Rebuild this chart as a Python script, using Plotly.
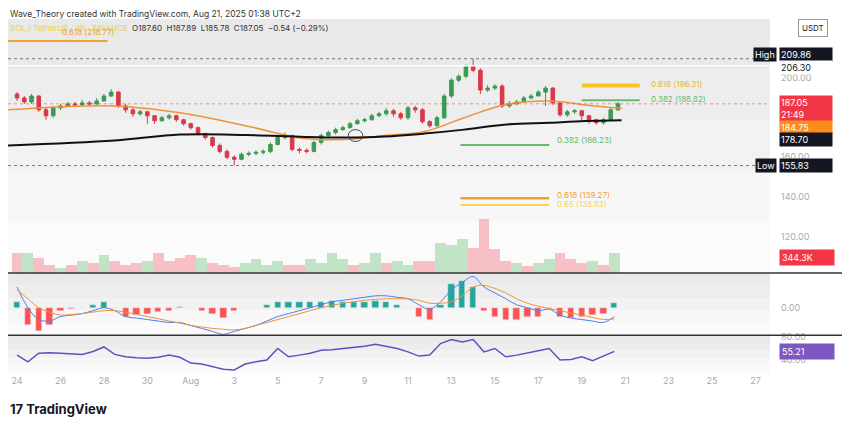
import plotly.graph_objects as go
import pandas as pd

# 8h candles, Jul 24 00:00 -> Aug 20 16:00
candle_times = pd.date_range("2025-07-24 00:00", periods=84, freq="8h")
opens = [192, 190, 188, 191, 184, 181, 185, 186, 187, 186.5, 187.5, 187, 188.5, 191, 193,
         186, 184, 182, 183, 181, 178.5, 180, 181, 179, 177, 175, 172, 170, 166, 163,
         160, 159, 161.5, 162, 162.5, 163, 166.5, 170, 171, 164, 163.5, 163, 167.5, 171, 172.5,
         174, 175, 177, 178.5, 179, 181, 182, 183.5, 182, 180, 185, 184, 178, 176, 180,
         191, 199, 201, 206, 204, 194, 195, 196, 186, 187, 188, 190, 191, 193, 195,
         187.5, 181.5, 183, 183.5, 181, 179, 177.5, 179, 184]
closes = [190, 188, 191, 184, 181, 185, 186, 187, 186.5, 187.5, 187, 188.5, 191, 193, 186,
          184, 182, 183, 181, 178.5, 180, 181, 179, 177, 175, 172, 170, 166, 163, 160,
          159, 161.5, 162, 162.5, 163, 166.5, 170, 171, 164, 163.5, 163, 167.5, 171, 172.5, 174,
          175, 177, 178.5, 179, 181, 182, 183.5, 182, 180, 185, 184, 178, 176, 180, 191,
          199, 201, 206, 204, 194, 195, 196, 186, 187, 188, 190, 191, 193, 195, 187.5,
          181.5, 183, 183.5, 181, 179, 177.5, 179, 184, 187.05]
highs = [193, 191, 192, 191.5, 185, 186, 187, 188, 188, 189, 188.5, 190, 192, 194.5, 193.5,
         187, 185, 184, 183.5, 181, 181, 182, 181.5, 179.5, 177.5, 175.5, 172.5, 170.5, 167, 164,
         161, 162.5, 163, 163.5, 164, 167.5, 171.5, 172.5, 171.5, 165, 164.5, 168.5, 172, 173.5, 175,
         176, 178, 179.5, 180, 182, 183, 185, 184.5, 183, 186, 186, 185, 179, 181, 192,
         200, 202, 207, 209.86, 205, 196.5, 197, 197, 188.5, 189, 191, 192, 194, 196, 195.5,
         188, 184, 184.5, 184, 181.5, 179.5, 180, 185, 187.89]
lows = [188.5, 187, 187, 183, 179, 180, 184, 185.5, 185.5, 186, 186, 186.5, 188, 190.5, 185,
        182.5, 180.5, 181, 177, 177, 178, 179, 178, 176, 174, 171, 169, 165, 162, 159,
        155.83, 158.5, 160.5, 161, 161.5, 162, 166, 169, 163, 162, 162, 162.5, 166.5, 170, 171.5,
        173.5, 174.5, 176.5, 177.5, 178.5, 180.5, 181, 180.5, 179, 179, 182.5, 177, 175, 175.5, 179.5,
        190, 198, 200, 203, 192, 193, 194, 185, 185, 186.5, 187.5, 189.5, 191, 186, 186.5,
        180.5, 180.5, 182, 178.5, 177, 176.5, 176.5, 178.5, 183.5]

# moving averages
ema_times = ["2025-07-23 14:00", "2025-07-28 12:00", "2025-07-31 12:00", "2025-08-03 12:00",
             "2025-08-06 06:00", "2025-08-08 02:00", "2025-08-09 22:00", "2025-08-11 18:00",
             "2025-08-13 14:00", "2025-08-15 10:00", "2025-08-17 12:00", "2025-08-19 04:00",
             "2025-08-20 20:00"]
ema50 = [184, 186, 182.5, 176, 169.5, 169, 171, 173, 180, 186.5, 188.5, 186.5, 184.75]
ema200 = [166, 168.5, 171.5, 171.3, 170.3, 170, 170.5, 172, 174, 176.5, 177.5, 178.3, 178.7]

# 12h indicator values, Jul 24 00:00 -> Aug 20 12:00
ind_times = pd.date_range("2025-07-24 00:00", periods=56, freq="12h")
volume_k = [980, 980, 735, 390, 245, 390, 590, 490, 880, 590, 390, 490, 590, 980,
            590, 735, 880, 735, 490, 390, 295, 490, 685, 390, 590, 390, 390, 685,
            490, 980, 685, 390, 490, 980, 490, 590, 390, 590, 590, 1470, 1370, 1715,
            1225, 2700, 1175, 590, 490, 345, 490, 685, 980, 685, 490, 590, 390, 980]
volume_dir = "RGRRGRGRGRRRGRRRRGRRRGGGGRRGGGGRGGRGGRRGGGRRRRGRGGRRRGRG"
macd = [7, 0, -4, -4.5, -3, -2.5, -2, -1, 0, -1, -3, -3.5, -4, -4.5, -5, -5,
        -6, -7, -8, -9, -8, -7, -6, -4.5, -3, -2, -1, 0, 1, 2, 2.5, 3,
        3.5, 4, 4, 3.5, 3, 1, -0.5, 2, 6, 8.5, 10.5, 7, 5, 3, 1, 0,
        -1, -0.5, -2.5, -3.5, -4, -4.5, -5, -3]
signal = [6, 3, 0, -1.5, -2.5, -2.3, -2, -1.5, -1, -1, -1.5, -2.2, -3, -3.7, -4.5, -5.2,
          -6, -6.5, -7, -7.3, -7.5, -7, -6, -5, -4, -3, -2, -1, 0, 0.8, 1.5, 2,
          2.5, 2.8, 3, 3, 3, 2.5, 1.5, 1.5, 2, 4, 7, 7.5, 6.5, 5, 3, 1.5,
          0.5, -0.3, -1, -1.8, -2.5, -3.3, -4, -3.8]
hist = [2, -6, -8, -6, -1, -0.5, 0, 1, 2, 0, -3, -2.6, -2, -1.6, -1, 0.4,
        0, -1, -2, -3.4, -1, 0, 0, 1, 2, 2, 2, 2, 2, 2.4, 2, 2,
        2, 2.4, 2, 1, 0, -3, -4, 1, 8, 9, 7, -1, -3, -4, -4, -3,
        -3, -0.4, -3, -3.4, -3, -2.4, -2, 1.6]
rsi = [48.7, 37, 52, 53, 52, 51, 50, 55, 63, 50, 45.7, 44, 43, 45, 48.7, 45,
       34.8, 33, 28.3, 24, 22.6, 33, 37, 40, 60.3, 45.7, 48.7, 52, 57.4, 58, 60.3, 62,
       64.3, 67.8, 64.3, 60.3, 54.4, 47, 48.7, 69, 76, 71.8, 76, 54.4, 60.3, 45.7, 48.7, 52,
       56.2, 60.3, 40, 41.2, 45.7, 38.8, 47, 55.21]

date_ticks = pd.date_range("2025-07-24", "2025-08-27", freq="2D")
date_labels = ["24", "26", "28", "30", "Aug", "3", "5", "7", "9", "11", "13", "15",
               "17", "19", "21", "23", "25", "27"]

GREEN = "#3b9a54"
RED = "#d8394a"
P_DOM = [0.279, 0.981]
M_DOM = [0.107, 0.279]
R_DOM = [0.0, 0.107]

fig = go.Figure()

vol_colors = ["rgba(120,200,130,0.45)" if d == "G" else "rgba(240,120,130,0.45)" for d in volume_dir]
fig.add_trace(go.Bar(x=ind_times, y=volume_k, marker_color=vol_colors, marker_line_width=0,
                     width=43200000, yaxis="y4", showlegend=False))

fig.add_trace(go.Candlestick(x=candle_times, open=opens, high=highs, low=lows, close=closes,
                             increasing=dict(line=dict(color=GREEN, width=1), fillcolor=GREEN),
                             decreasing=dict(line=dict(color=RED, width=1), fillcolor=RED),
                             whiskerwidth=0, showlegend=False))
fig.add_trace(go.Scatter(x=ema_times, y=ema50, mode="lines", line=dict(color="#f0913a", width=1.5, shape="spline"),
                         showlegend=False))
fig.add_trace(go.Scatter(x=ema_times, y=ema200, mode="lines", line=dict(color="#111111", width=2, shape="spline"),
                         showlegend=False))

hist_colors = ["#26a69a" if h >= 0 else "#ff5252" for h in hist]
fig.add_trace(go.Bar(x=ind_times, y=hist, marker_color=hist_colors, width=25000000,
                     yaxis="y2", showlegend=False))
fig.add_trace(go.Scatter(x=ind_times, y=macd, mode="lines", line=dict(color="#4a7ff0", width=1, shape="spline"),
                         yaxis="y2", showlegend=False))
fig.add_trace(go.Scatter(x=ind_times, y=signal, mode="lines", line=dict(color="#f0913a", width=1, shape="spline"),
                         yaxis="y2", showlegend=False))
fig.add_trace(go.Scatter(x=ind_times, y=rsi, mode="lines", line=dict(color="#6a4bc4", width=1.5),
                         yaxis="y3", showlegend=False))

shapes = []
# pane backgrounds (light gray fading to white)
for dom in (P_DOM, M_DOM, R_DOM):
    for i, c in enumerate(["#e9e9e9", "#ededed", "#f2f2f2", "#f7f7f7", "#fbfbfb"]):
        h = (dom[1] - dom[0]) / 5
        shapes.append(dict(type="rect", xref="paper", yref="paper", x0=0, x1=1,
                           y0=dom[1] - (i + 1) * h, y1=dom[1] - i * h,
                           fillcolor=c, line_width=0, layer="below"))
# pane separators
for yy in (M_DOM[1], R_DOM[1]):
    shapes.append(dict(type="line", xref="paper", yref="paper", x0=0, x1=1.1, y0=yy, y1=yy,
                       line=dict(color="#333333", width=1.5)))
# horizontal levels
shapes.append(dict(type="line", xref="paper", yref="y", x0=0, x1=1, y0=209.86, y1=209.86,
                   line=dict(color="#777", width=1, dash="dot")))
shapes.append(dict(type="line", xref="paper", yref="y", x0=0, x1=1, y0=155.83, y1=155.83,
                   line=dict(color="#777", width=1, dash="dot")))
shapes.append(dict(type="line", xref="paper", yref="y", x0=0, x1=1, y0=206.30, y1=206.30,
                   line=dict(color="white", width=1.5)))
shapes.append(dict(type="line", xref="paper", yref="y", x0=0, x1=1, y0=187.05, y1=187.05,
                   line=dict(color="rgba(216,57,74,0.5)", width=1, dash="dot")))
# fib lines
fibs = [("2025-07-23 14:00", "2025-07-28 04:00", 218.77, "#f0a030", 2),
        ("2025-08-19 00:00", "2025-08-21 16:00", 196.31, "#f6c623", 4),
        ("2025-08-19 00:00", "2025-08-21 16:00", 188.82, "#66bb6a", 2),
        ("2025-08-13 10:00", "2025-08-17 12:00", 166.23, "#66bb6a", 2),
        ("2025-08-13 10:00", "2025-08-17 12:00", 139.27, "#f0a030", 2.5),
        ("2025-08-13 10:00", "2025-08-17 12:00", 135.83, "#f6d650", 2)]
for x0, x1, lv, col, w in fibs:
    shapes.append(dict(type="line", xref="x", yref="y", x0=x0, x1=x1, y0=lv, y1=lv,
                       line=dict(color=col, width=w)))
shapes.append(dict(type="circle", xref="x", yref="y", x0="2025-08-08 06:00", x1="2025-08-08 22:00",
                   y0=168, y1=174, line=dict(color="#444", width=1)))

ann = [
    dict(x=0.0, y=1.0, xref="paper", yref="paper", xanchor="left", yanchor="top", yshift=5, showarrow=False,
         text="Wave_Theory created with TradingView.com, Aug 21, 2025 01:38 UTC+2",
         font=dict(size=8.5, color="#333")),
    dict(x=0.0, y=0.975, xref="paper", yref="paper", xanchor="left", yanchor="top", showarrow=False,
         text="<span style='color:#e8d24a'>SOL / TetherUS · 4h · BINANCE</span>  O187.60  H187.89  L185.78  C187.05  −0.54 (−0.29%)",
         font=dict(size=8, color="#333")),
    dict(x="2025-07-26 00:00", y=220, xref="x", yref="y", xanchor="left", yanchor="bottom", showarrow=False,
         text="0.618 (218.77)", font=dict(size=8, color="#f0a030")),
    dict(x="2025-08-22 02:00", y=197, xref="x", yref="y", xanchor="left", showarrow=False,
         text="0.618 (196.31)", font=dict(size=8, color="#e8b820")),
    dict(x="2025-08-22 02:00", y=189.5, xref="x", yref="y", xanchor="left", showarrow=False,
         text="0.382 (188.82)", font=dict(size=8, color="#66bb6a")),
    dict(x="2025-08-17 18:00", y=169, xref="x", yref="y", xanchor="left", showarrow=False,
         text="0.382 (166.23)", font=dict(size=8, color="#66bb6a")),
    dict(x="2025-08-17 18:00", y=141, xref="x", yref="y", xanchor="left", showarrow=False,
         text="0.618 (139.27)", font=dict(size=8, color="#f0a030")),
    dict(x="2025-08-17 18:00", y=136.5, xref="x", yref="y", xanchor="left", showarrow=False,
         text="0.65 (135.83)", font=dict(size=8, color="#f6d650")),
    dict(x=1.0, y=0.955, xref="paper", yref="paper", xanchor="left", yanchor="middle", xshift=28, showarrow=False,
         text="USDT", font=dict(size=8, color="#222"), bordercolor="#999", borderwidth=1, borderpad=3,
         bgcolor="white"),
]
# price tags on the right: (position on axis, text, background, text colour, anchor)
tags = [(211.8, "209.86", "#131722", "white", "middle"), (205.3, "206.30", "white", "#131722", "middle"),
        (191.5, "187.05<br>21:49", "#f23645", "white", "top"), (175.0, "184.75", "#ff8c1a", "white", "middle"),
        (169.0, "178.70", "#131722", "white", "middle"), (155.83, "155.83", "#131722", "white", "middle")]
for yv, txt, bg, fg, ya in tags:
    ann.append(dict(x=1.0, y=yv, xref="paper", yref="y", xanchor="left", yanchor=ya, xshift=9, showarrow=False,
                    text=txt, bgcolor=bg, font=dict(size=9, color=fg), borderpad=1, width=50, align="left"))
for yv, txt in ((211.8, "High"), (155.83, "Low")):
    ann.append(dict(x=1.0, y=yv, xref="paper", yref="y", xanchor="right", xshift=7, showarrow=False,
                    text=txt, bgcolor="#131722", font=dict(size=9, color="white"), borderpad=1))
ann.append(dict(x=1.0, y=344.3, xref="paper", yref="y4", xanchor="left", xshift=9, yanchor="bottom",
                showarrow=False, text="344.3K", bgcolor="#f23645", font=dict(size=9, color="white"),
                borderpad=2, width=50, align="left"))
ann.append(dict(x=1.0, y=55.21, xref="paper", yref="y3", xanchor="left", xshift=9, showarrow=False,
                text="55.21", bgcolor="#7e57c2", font=dict(size=9, color="white"), borderpad=2,
                width=50, align="left"))
ann.append(dict(x=0.0, y=-0.098, xref="paper", yref="paper", xanchor="left", yanchor="middle", showarrow=False,
                text="<b>17 TradingView</b>", font=dict(size=13, color="#131722")))

axis_font = dict(size=9, color="#aaaaaa")
fig.update_layout(
    width=850, height=429,
    margin=dict(l=0, r=88, t=0, b=63),
    paper_bgcolor="white", plot_bgcolor="white",
    font=dict(family="Inter, Roboto, sans-serif"),
    bargap=0,
    xaxis=dict(range=["2025-07-23 14:00", "2025-08-27 16:00"], rangeslider=dict(visible=False),
               tickvals=date_ticks, ticktext=date_labels, tickfont=axis_font, showgrid=False,
               zeroline=False, ticks="", anchor="y3"),
    yaxis=dict(domain=P_DOM, range=[101.5, 230], side="right", tickvals=[120, 140, 160, 200],
               ticktext=["120.00", "140.00", "160.00", "200.00"], tickfont=axis_font,
               showgrid=False, zeroline=False, ticklabelstandoff=10),
    yaxis2=dict(domain=M_DOM, range=[-9.3, 11.7], side="right", tickvals=[0], ticktext=["0.00"],
                tickfont=axis_font, showgrid=False, zeroline=False, anchor="x", ticklabelstandoff=10),
    yaxis3=dict(domain=R_DOM, range=[15.6, 83.5], side="right", tickvals=[40, 80],
                ticktext=["40.00", "80.00"], tickfont=axis_font, showgrid=False, zeroline=False,
                anchor="x", ticklabelstandoff=10),
    yaxis4=dict(domain=P_DOM, range=[0, 12600], overlaying="y", visible=False),
    shapes=shapes, annotations=ann,
)

fig.write_html("out.html")
